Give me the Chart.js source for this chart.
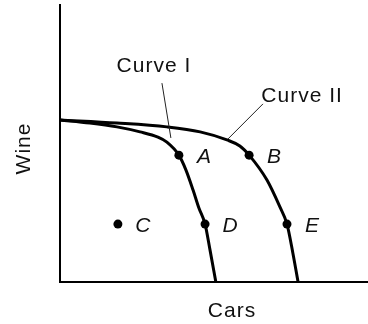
<!DOCTYPE html>
<html>
<head>
<meta charset="utf-8">
<script src="https://cdn.jsdelivr.net/npm/chart.js@4/dist/chart.umd.min.js"></script>
<style>
  html, body { margin: 0; padding: 0; background: #fff; }
  #wrap { width: 368px; height: 324px; }
</style>
</head>
<body>
<div id="wrap"><canvas id="ppf" width="368" height="324"></canvas></div>
<script>
// production possibility curves (0-10 on both axes)
const curve1X = [0, 0.97, 1.85, 2.60, 3.18, 3.47, 3.86, 4.09, 4.32, 4.51, 4.71, 4.87, 5.06];
const curve1Y = [5.85, 5.74, 5.60, 5.42, 5.23, 5.05, 4.58, 4.04, 3.32, 2.67, 2.09, 1.16, 0];
const curve2X = [0, 1.85, 3.47, 4.55, 5.42, 5.84, 6.14, 6.72, 7.14, 7.37, 7.56, 7.73];
const curve2Y = [5.85, 5.74, 5.60, 5.42, 5.13, 4.91, 4.58, 3.68, 2.71, 2.09, 1.05, 0];

const pointNames = ["A", "B", "C", "D", "E"];
const pointX = [3.86, 6.14, 1.88, 4.71, 7.37];
const pointY = [4.58, 4.58, 2.09, 2.09, 2.09];

const curveNames = ["Curve I", "Curve II"];
const axisNames = ["Cars", "Wine"];

const toXY = (xs, ys) => xs.map((x, i) => ({ x: x, y: ys[i] }));

// text labels, leader lines and axis names
const labelPlugin = {
  id: "labels",
  afterDatasetsDraw(chart) {
    const ctx = chart.ctx;
    const sx = chart.scales.x, sy = chart.scales.y;
    const area = chart.chartArea;
    const px = v => sx.getPixelForValue(v);
    const py = v => sy.getPixelForValue(v);
    ctx.save();
    ctx.fillStyle = "#111";
    ctx.strokeStyle = "#222";
    ctx.textAlign = "center";
    ctx.textBaseline = "middle";

    // curve names with leader lines
    const spots = [
      { tx: 3.05, ty: 7.80, from: [3.31, 7.18], to: [3.60, 5.20] },
      { tx: 7.86, ty: 6.71, from: [6.59, 6.43], to: [5.45, 5.16] }
    ];
    ctx.font = "21px 'Liberation Sans', Arial, sans-serif";
    ctx.letterSpacing = "1px";
    curveNames.forEach((name, i) => {
      const s = spots[i];
      ctx.fillText(name, px(s.tx), py(s.ty));
      ctx.lineWidth = 1;
      ctx.beginPath();
      ctx.moveTo(px(s.from[0]), py(s.from[1]));
      ctx.lineTo(px(s.to[0]), py(s.to[1]));
      ctx.stroke();
    });

    // point letters
    ctx.font = "italic 21px 'Liberation Sans', Arial, sans-serif";
    ctx.letterSpacing = "0px";
    pointNames.forEach((n, i) => {
      ctx.fillText(n, px(pointX[i]) + 25, py(pointY[i]) + 2);
    });

    // axis names
    ctx.font = "21px 'Liberation Sans', Arial, sans-serif";
    ctx.letterSpacing = "1px";
    ctx.fillText(axisNames[0], area.left + 172, area.bottom + 29);
    ctx.translate(area.left - 36, (area.top + area.bottom) / 2 + 5);
    ctx.rotate(-Math.PI / 2);
    ctx.fillText(axisNames[1], 0, 0);
    ctx.restore();
  }
};

new Chart(document.getElementById("ppf"), {
  type: "scatter",
  data: {
    datasets: [
      {
        data: toXY(curve1X, curve1Y),
        showLine: true,
        borderColor: "#000",
        borderWidth: 3,
        pointRadius: 0,
        cubicInterpolationMode: "monotone"
      },
      {
        data: toXY(curve2X, curve2Y),
        showLine: true,
        borderColor: "#000",
        borderWidth: 3,
        pointRadius: 0,
        cubicInterpolationMode: "monotone"
      },
      {
        data: toXY(pointX, pointY),
        showLine: false,
        pointRadius: 4.5,
        pointBackgroundColor: "#000",
        pointBorderWidth: 0,
        clip: false
      }
    ]
  },
  options: {
    responsive: false,
    animation: false,
    layout: { autoPadding: false, padding: { left: 60, top: 5, right: 0, bottom: 42 } },
    plugins: { legend: { display: false }, tooltip: { enabled: false } },
    scales: {
      x: {
        type: "linear", min: 0, max: 10,
        ticks: { display: false },
        grid: { display: false, drawTicks: false },
        border: { display: true, color: "#000", width: 2 }
      },
      y: {
        type: "linear", min: 0, max: 10,
        ticks: { display: false },
        grid: { display: false, drawTicks: false },
        border: { display: true, color: "#000", width: 2 }
      }
    }
  },
  plugins: [labelPlugin]
});
</script>
</body>
</html>
